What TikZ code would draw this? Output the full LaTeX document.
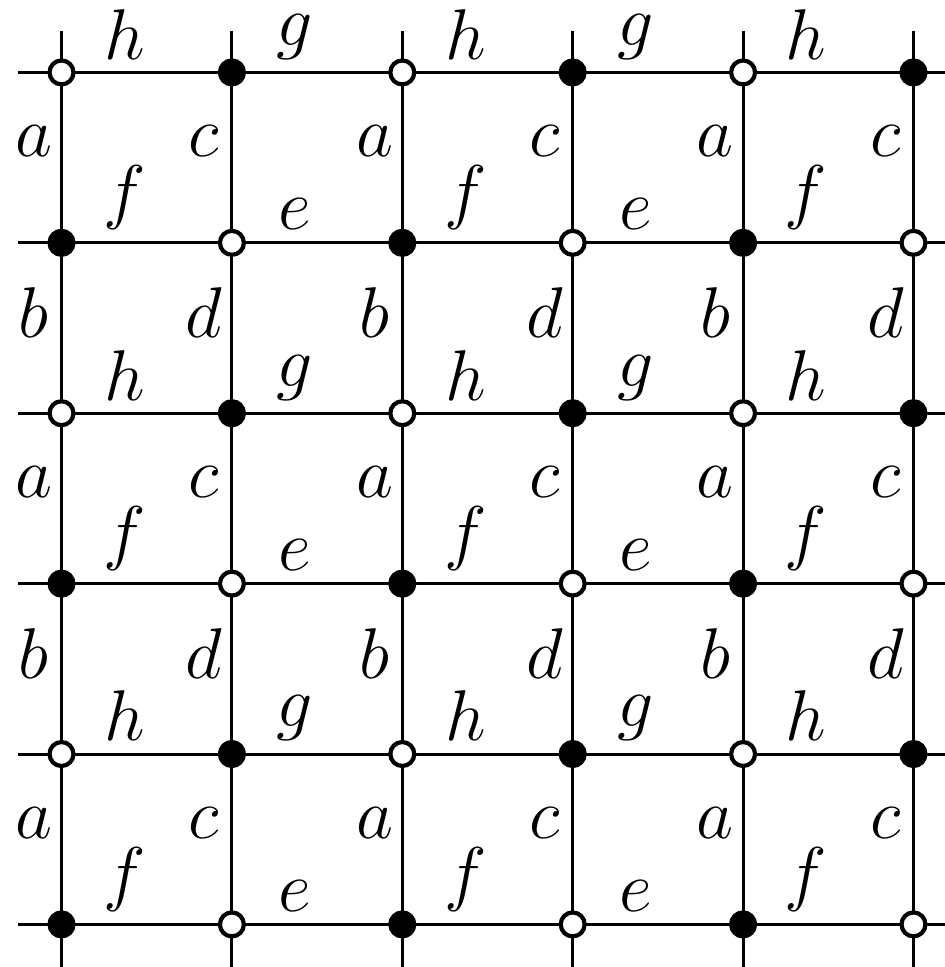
\documentclass[tikz,border=0pt]{standalone}
\begin{document}
\begin{tikzpicture}[x=1cm,y=1cm,
  gridline/.style={line width=0.5pt},
  vopen/.style={circle, draw, fill=white, minimum size=4.0pt, inner sep=0pt, line width=0.7pt},
  vfull/.style={circle, draw, fill=black, minimum size=4.0pt, inner sep=0pt, line width=0.7pt},
  lab/.style={inner sep=0pt, font=\fontsize{11.65pt}{14pt}\selectfont},
  hlab/.style={lab, anchor=south},
  vlab/.style={lab, anchor=base}]
\clip (-0.361,0.425) rectangle (5.185,-5.250);
% end coordinates of the grid lines
\foreach \i in {0,...,5}{
  \coordinate (t\i) at (\i,0.244);
  \coordinate (b\i) at (\i,-5.6);
  \coordinate (l\i) at (-0.255,-\i);
  \coordinate (r\i) at (5.6,-\i);
}
\foreach \i in {0,...,5}{
  \draw[gridline] (t\i) -- (b\i);
  \draw[gridline] (l\i) -- (r\i);
}
% vertices
\foreach \i in {0,...,5}{
  \foreach \j in {0,...,5}{
    \pgfmathtruncatemacro{\myparity}{mod(\i+\j,2)}
    \ifnum\myparity=0
      \node[vopen] (v-\i-\j) at (\i,-\j) {};
    \else
      \node[vfull] (v-\i-\j) at (\i,-\j) {};
    \fi
  }
}
% horizontal edge labels
\foreach \j in {0,2,4}{
  \foreach \i/\l in {0/h,1/g,2/h,3/g,4/h}{
    \node[hlab] (hl-\i-\j) at (\i+0.5-0.13,-\j+0.07) {$\l$};
  }
}
\foreach \j in {1,3,5}{
  \foreach \i/\l in {0/f,1/e,2/f,3/e,4/f}{
    \node[hlab] (hl-\i-\j) at (\i+0.5-0.13,-\j+0.07) {$\l$};
  }
}
% vertical edge labels
\foreach \j in {0,2,4}{
  \foreach \i/\l in {0/a,1/c,2/a,3/c,4/a,5/c}{
    \node[vlab] (vl-\i-\j) at (\i-0.163,-\j-0.5+0.006) {$\l$};
  }
}
\foreach \j in {1,3}{
  \foreach \i/\l in {0/b,1/d,2/b,3/d,4/b,5/d}{
    \node[vlab] (vl-\i-\j) at (\i-0.163,-\j-0.5-0.058) {$\l$};
  }
}
\end{tikzpicture}
\end{document}
